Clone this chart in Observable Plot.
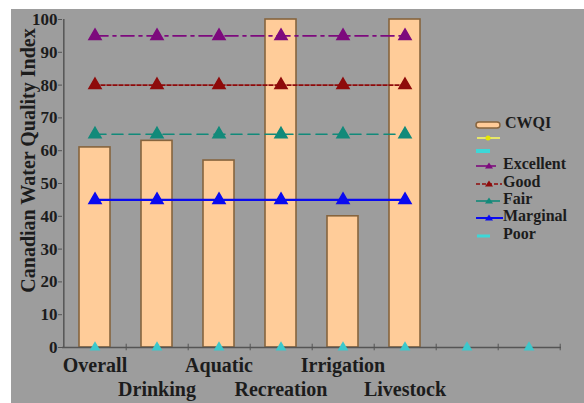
<!DOCTYPE html>
<html><head><meta charset="utf-8">
<script src="https://cdn.jsdelivr.net/npm/d3@7"></script>
<script src="https://cdn.jsdelivr.net/npm/@observablehq/plot@0.6"></script>
<style>
body{margin:0;background:#fff;}
#wrap{position:relative;width:584px;height:403px;overflow:hidden;background:#fff;}
#chart{position:absolute;left:11px;top:9px;}
#chart svg, #chart svg text{font-family:"Liberation Serif","Times New Roman","DejaVu Serif",serif !important;}
.li{position:absolute;font-weight:bold;font-size:16px;font-family:"Liberation Serif","Times New Roman","DejaVu Serif",serif;color:#1c1c1c;white-space:nowrap;line-height:16px;}
.ic{position:absolute;}
</style></head><body>
<div id="wrap"><div id="chart"></div></div>
<script>
// ---- data ----
const categories = ["Overall","Drinking","Aquatic","Recreation","Irrigation","Livestock","c7","c8"];
const tickLabels = ["Overall","Drinking","Aquatic","Recreation","Irrigation","Livestock","",""];
const cwqi      = [61, 63, 57, 100, 40, 100];
const excellent = [95, 95, 95, 95, 95, 95];
const good      = [80, 80, 80, 80, 80, 80];
const fair      = [65, 65, 65, 65, 65, 65];
const marginal  = [45, 45, 45, 45, 45, 45];
const poor      = [0, 0, 0, 0, 0, 0, 0, 0];
const yTicks    = [0, 10, 20, 30, 40, 50, 60, 70, 80, 90, 100];
const legendLabels = ["CWQI", "", "", "Excellent", "Good", "Fair", "Marginal", "Poor"];

// ---- layout ----
const W = 573, H = 394, ML = 51, MR = 23, MT = 10, MB = 56;
const step = (W - ML - MR) / categories.length;
const axisColor = "#555";

const bars = cwqi.map((v, i) => ({cat: categories[i], value: v}));
const rows = vals => vals.map((v, i) => ({cat: categories[i], value: v}));

const series = [
  {vals: excellent, color: "#7d0a7d", dash: "13,5,3,5"},
  {vals: good,      color: "#8e0b0b", dash: "4,2"},
  {vals: fair,      color: "#128a7a", dash: "11,6"},
  {vals: marginal,  color: "#0a0af0", dash: null}
];

const marks = [
  Plot.barY(bars, {x: "cat", y: "value", fill: "#ffcc99", stroke: "#86643e", strokeWidth: 1.6}),
  Plot.ruleY([0], {stroke: axisColor, strokeWidth: 1.5}),
  Plot.ruleX([categories[0]], {dx: -step / 2, y1: 0, y2: 100, stroke: axisColor, strokeWidth: 1.5}),
  Plot.ruleX(categories, {dx: step / 2, y1: -1, y2: 1, stroke: axisColor}),
  Plot.axisY({ticks: yTicks, tickSize: 4, tickPadding: 1, fontSize: 17, fontWeight: "bold", label: null, stroke: axisColor}),
  Plot.axisX({ticks: categories.filter((d, i) => i % 2 === 0), tickSize: 0, tickPadding: 10,
    tickFormat: d => tickLabels[categories.indexOf(d)], fontSize: 20, fontWeight: "bold", label: null}),
  Plot.axisX({ticks: categories.filter((d, i) => i % 2 === 1), tickSize: 0, tickPadding: 34,
    tickFormat: d => tickLabels[categories.indexOf(d)], fontSize: 20, fontWeight: "bold", label: null}),
  Plot.text(["Canadian Water Quality Index"], {frameAnchor: "left", textAnchor: "middle", dx: -34, dy: -23, rotate: -90,
    fontSize: 20, fontWeight: "bold", fill: "#1c1c1c"})
];
for (const s of series) {
  marks.push(Plot.line(rows(s.vals), {x: "cat", y: "value", stroke: s.color, strokeWidth: s.dash ? 1.6 : 2.2,
    strokeDasharray: s.dash}));
  marks.push(Plot.dot(rows(s.vals), {x: "cat", y: "value", symbol: "triangle", r: 4.5, fill: s.color, stroke: s.color}));
}
marks.push(Plot.dot(rows(poor), {x: "cat", y: "value", symbol: "triangle", r: 4, fill: "#3cc8cc"}));

const plot = Plot.plot({
  width: W, height: H, marginLeft: ML, marginRight: MR, marginTop: MT, marginBottom: MB,
  style: {background: "#9d9d9d", color: "#1c1c1c", overflow: "visible"},
  x: {domain: categories, paddingInner: 0.5, paddingOuter: 0.25},
  y: {domain: [0, 100]},
  marks
});
document.getElementById("chart").appendChild(plot);

// ---- legend ----
const wrap = document.getElementById("wrap");
const legendY = [123, 136, 149, 164, 182, 199, 216, 234];
const icons = [
  `<rect x="2" y="3" width="24" height="6" rx="3" fill="#ffcc99" stroke="#86643e" stroke-width="1.5"/>`,
  `<line x1="3" y1="6" x2="26" y2="6" stroke="#e6e66a" stroke-width="2"/><circle cx="14" cy="6" r="2.5" fill="#e6e600"/>`,
  `<line x1="2" y1="6" x2="16" y2="6" stroke="#3cd8d8" stroke-width="4"/>`,
  `<line x1="2" y1="6" x2="22" y2="6" stroke="#7d0a7d" stroke-width="1.6"/><path d="M15,2.5 L19,8.5 L11,8.5 Z" fill="#7d0a7d"/>`,
  `<line x1="2" y1="6" x2="28" y2="6" stroke="#8e0b0b" stroke-width="1.6" stroke-dasharray="4,2"/><path d="M15,2.5 L19,8.5 L11,8.5 Z" fill="#8e0b0b"/>`,
  `<line x1="2" y1="6" x2="26" y2="6" stroke="#128a7a" stroke-width="1.6"/><path d="M15,2.5 L19,8.5 L11,8.5 Z" fill="#128a7a"/>`,
  `<line x1="2" y1="6" x2="29" y2="6" stroke="#0a0af0" stroke-width="2"/><path d="M15,2.5 L19,8.5 L11,8.5 Z" fill="#0a0af0"/>`,
  `<line x1="3" y1="6" x2="16" y2="6" stroke="#3cd8d8" stroke-width="3"/>`
];
legendLabels.forEach((lab, i) => {
  const ic = document.createElement("div");
  ic.className = "ic";
  ic.style.left = "474px"; ic.style.top = (legendY[i] - 6) + "px";
  ic.innerHTML = `<svg width="32" height="12">${icons[i]}</svg>`;
  wrap.appendChild(ic);
  if (lab) {
    const t = document.createElement("div");
    t.className = "li";
    t.style.left = (i === 0 ? 505 : 503) + "px"; t.style.top = (legendY[i] - 8) + "px";
    t.textContent = lab;
    wrap.appendChild(t);
  }
});
</script>
</body></html>
